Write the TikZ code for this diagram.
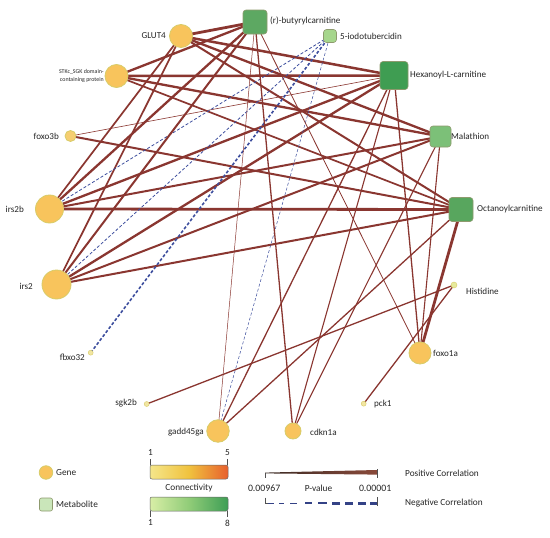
\documentclass[tikz,border=0pt]{standalone}
\usepackage{fontspec}
\setmainfont{Carlito}
\usetikzlibrary{backgrounds}
\definecolor{pos}{HTML}{8A3630}
\definecolor{neg}{HTML}{3D4E9E}
\definecolor{genefill}{HTML}{F8C45C}
\definecolor{genebd}{HTML}{D8CC68}
\definecolor{smallfill}{HTML}{F2E6A2}
\definecolor{metbd}{HTML}{8E9A6E}
\definecolor{labc}{HTML}{262626}
\definecolor{mB}{HTML}{5DA862}
\definecolor{mH}{HTML}{3F9D52}
\definecolor{mO}{HTML}{58A65E}
\definecolor{mM}{HTML}{7CC078}
\definecolor{mI}{HTML}{A6D68C}
\definecolor{mHi}{HTML}{E6EA9C}
\definecolor{gL}{HTML}{F5E68A}
\definecolor{gM}{HTML}{F0C23E}
\definecolor{gR}{HTML}{E8602E}
\definecolor{grL}{HTML}{D8EEA6}
\definecolor{grM}{HTML}{90CC78}
\definecolor{grR}{HTML}{3E9E55}
\definecolor{wL}{HTML}{3A2A24}
\definecolor{wR}{HTML}{8A4A3A}
\begin{document}
\begin{tikzpicture}[x=1pt,y=-1pt,
  gene/.style={circle,draw=genebd,fill=genefill,line width=0.8pt,inner sep=0pt,minimum size=#1},
  sgene/.style={circle,draw=genebd,fill=smallfill,line width=0.4pt,inner sep=0pt,minimum size=#1},
  met/.style={rectangle,rounded corners=3pt,draw=metbd,line width=0.6pt,inner sep=0pt,minimum size=#1},
  lab/.style={inner sep=0pt,font=\fontsize{9.1}{10.5}\selectfont,text=labc},
  leg/.style={inner sep=0pt,font=\fontsize{9.3}{11}\selectfont,text=labc},
  pe/.style={draw=pos,line width=#1},
  ne/.style={draw=neg,line width=#1,dash pattern=on 3pt off 2pt},
  tick/.style={draw=labc!80,line width=0.5pt}]
\useasboundingbox (0,0) rectangle (550,538);
% nodes: metabolites
\node[met=24pt,fill=mB] (B) at (255,22) {};
\node[met=13pt,fill=mI] (I) at (330,36) {};
\node[met=28pt,fill=mH] (H) at (394,75.5) {};
\node[met=21pt,fill=mM] (M) at (440.5,136.5) {};
\node[met=24pt,fill=mO] (O) at (461,209.5) {};
\node[sgene=6pt,fill=mHi] (Hi) at (454,285) {};
% genes
\node[gene=23pt] (G) at (181,36) {};
\node[gene=23pt] (S) at (116.5,76) {};
\node[gene=11pt,fill=genefill!70!smallfill] (F3) at (70.5,136) {};
\node[gene=28pt] (R2b) at (49.5,209) {};
\node[gene=29pt] (R2) at (56.5,284.5) {};
\node[sgene=5pt] (Fb) at (90.7,352.7) {};
\node[gene=22pt] (F1) at (420,353) {};
\node[sgene=5pt] (Sg) at (146.7,404) {};
\node[sgene=5pt] (P) at (363.7,403.7) {};
\node[gene=22.5pt] (Ga) at (218,431) {};
\node[gene=16pt] (C) at (293,431) {};
% edges
\begin{scope}[on background layer]
\fill[white] (0,0) rectangle (550,538);
\draw[pe=2.8pt] (G.center) -- (B.center);
\draw[pe=2.5pt] (G.center) -- (H.center);
\draw[pe=2.3pt] (G.center) -- (M.center);
\draw[pe=2pt] (G.center) -- (O.center);
\draw[pe=1.7pt] (G.center) -- (R2b.center);
\draw[pe=1.7pt] (G.center) -- (R2.center);
\draw[pe=2.3pt] (S.center) -- (B.center);
\draw[pe=2.5pt] (S.center) -- (H.center);
\draw[pe=2.3pt] (S.center) -- (M.center);
\draw[pe=1.7pt] (S.center) -- (O.center);
\draw[pe=0.6pt] (F3.center) -- (H.center);
\draw[pe=2pt] (F3.center) -- (O.center);
\draw[pe=2.3pt] (R2b.center) -- (B.center);
\draw[ne=0.8pt] (R2b.center) -- (I.center);
\draw[pe=2.3pt] (R2b.center) -- (H.center);
\draw[pe=2pt] (R2b.center) -- (M.center);
\draw[pe=2.8pt] (R2b.center) -- (O.center);
\draw[pe=2pt] (R2.center) -- (B.center);
\draw[ne=0.8pt] (R2.center) -- (I.center);
\draw[pe=2.3pt] (R2.center) -- (H.center);
\draw[pe=2pt] (R2.center) -- (M.center);
\draw[pe=2pt] (R2.center) -- (O.center);
\draw[ne=1.6pt] (Fb.center) -- (I.center);
\draw[pe=0.5pt] (Ga.center) -- (B.center);
\draw[ne=0.5pt] (Ga.center) -- (I.center);
\draw[pe=1.3pt] (Ga.center) -- (H.center);
\draw[pe=1.3pt] (Ga.center) -- (O.center);
\draw[pe=1.3pt] (C.center) -- (B.center);
\draw[pe=1.1pt] (C.center) -- (H.center);
\draw[pe=1.1pt] (C.center) -- (M.center);
\draw[pe=0.8pt] (F1.center) -- (B.center);
\draw[pe=1.3pt] (F1.center) -- (H.center);
\draw[pe=1.1pt] (F1.center) -- (M.center);
\draw[pe=2.8pt] (F1.center) -- (O.center);
\draw[pe=1.3pt] (Hi.center) -- (Sg.center);
\draw[pe=1.3pt] (Hi.center) -- (P.center);
\end{scope}
% labels
\node[lab,anchor=west] (Blab) at (270,21) {(r)-butyrylcarnitine};
\node[lab,anchor=west] (Ilab) at (340,36) {5-iodotubercidin};
\node[lab,anchor=west] (Hlab) at (410,75) {Hexanoyl-L-carnitine};
\node[lab,anchor=west] (Mlab) at (451,136) {Malathion};
\node[lab,anchor=west] (Olab) at (477,209) {Octanoylcarnitine};
\node[lab,anchor=west] (Hilab) at (466,291) {Histidine};
\node[lab,anchor=west] (F1lab) at (433,353) {foxo1a};
\node[lab,anchor=west] (Plab) at (374,404) {pck1};
\node[lab,anchor=west] (Clab) at (310,432) {cdkn1a};
\node[lab,anchor=east] (Galab) at (204,432) {gadd45ga};
\node[lab,anchor=east] (Sglab) at (137,403) {sgk2b};
\node[lab,anchor=east] (Fblab) at (85,357) {fbxo32};
\node[lab,anchor=east] (R2lab) at (33,286) {irs2};
\node[lab,anchor=east] (R2blab) at (24,209) {irs2b};
\node[lab,anchor=east] (F3lab) at (59,136) {foxo3b};
\node[lab,anchor=east] (Glab) at (166,36) {GLUT4};
\node[inner sep=0pt,anchor=east,align=right,font=\fontsize{5.9}{8.8}\selectfont,text=labc] (Slab) at (104,76) {STKc\_SGK domain-\\containing protein};
% legend
\node[gene=13.5pt] (LG) at (46,472.5) {};
\node[leg,anchor=west] (LGt) at (56,472.5) {Gene};
\node[met=13pt,fill=mI!60!white,rounded corners=2pt] (LM) at (46,504.5) {};
\node[leg,anchor=west] (LMt) at (56,504.5) {Metabolite};
\shade[left color=gL,right color=gR,middle color=gM,draw=labc!70,line width=0.5pt,rounded corners=2pt] (150,465) rectangle (228,479);
\shade[left color=grL,right color=grR,middle color=grM,draw=labc!70,line width=0.5pt,rounded corners=2pt] (150,497) rectangle (228,511);
\draw[tick] (150.5,459) -- (150.5,465) (227.5,459) -- (227.5,465);
\draw[tick] (150.5,511) -- (150.5,517) (227.5,511) -- (227.5,517);
\node[leg] (c1) at (150.5,453) {1};
\node[leg] (c5) at (227.5,453) {5};
\node[leg] (m1) at (150.5,523) {1};
\node[leg] (m8) at (227.5,523) {8};
\node[leg] (ctext) at (189,488) {Connectivity};
% p-value legend
\shade[left color=wL,right color=wR] (265,472.6) -- (377,470) -- (377,474.6) -- (265,473.4) -- cycle;
\draw[tick] (265,472.5) -- (265,478);
\draw[tick] (377,469) -- (377,478);
\draw[tick] (265,497.5) -- (265,503.3) -- (268,503.3);
\draw[tick] (377,497) -- (377,506);
\foreach \a/\b/\w in {268/274/0.9,279/284/1.1,290/297/1.5,305/312/1.8,318/327/2.1,332/340/2.4,345/353/2.7,358/366/3.0,370/377/3.4}
  \draw[draw=neg!85!black,line width=\w pt] (\a,503.3) -- (\b,503.3);
\node[leg,anchor=east,font=\fontsize{9.8}{11}\selectfont] (p1) at (280.5,488) {0.00967};
\node[leg] (pv) at (318.5,488) {P-value};
\node[leg,anchor=east,font=\fontsize{9.8}{11}\selectfont] (p2) at (391.5,488) {0.00001};
\node[leg,anchor=west] (posl) at (405,473) {Positive Correlation};
\node[leg,anchor=west] (negl) at (405,503) {Negative Correlation};
\end{tikzpicture}
\end{document}
